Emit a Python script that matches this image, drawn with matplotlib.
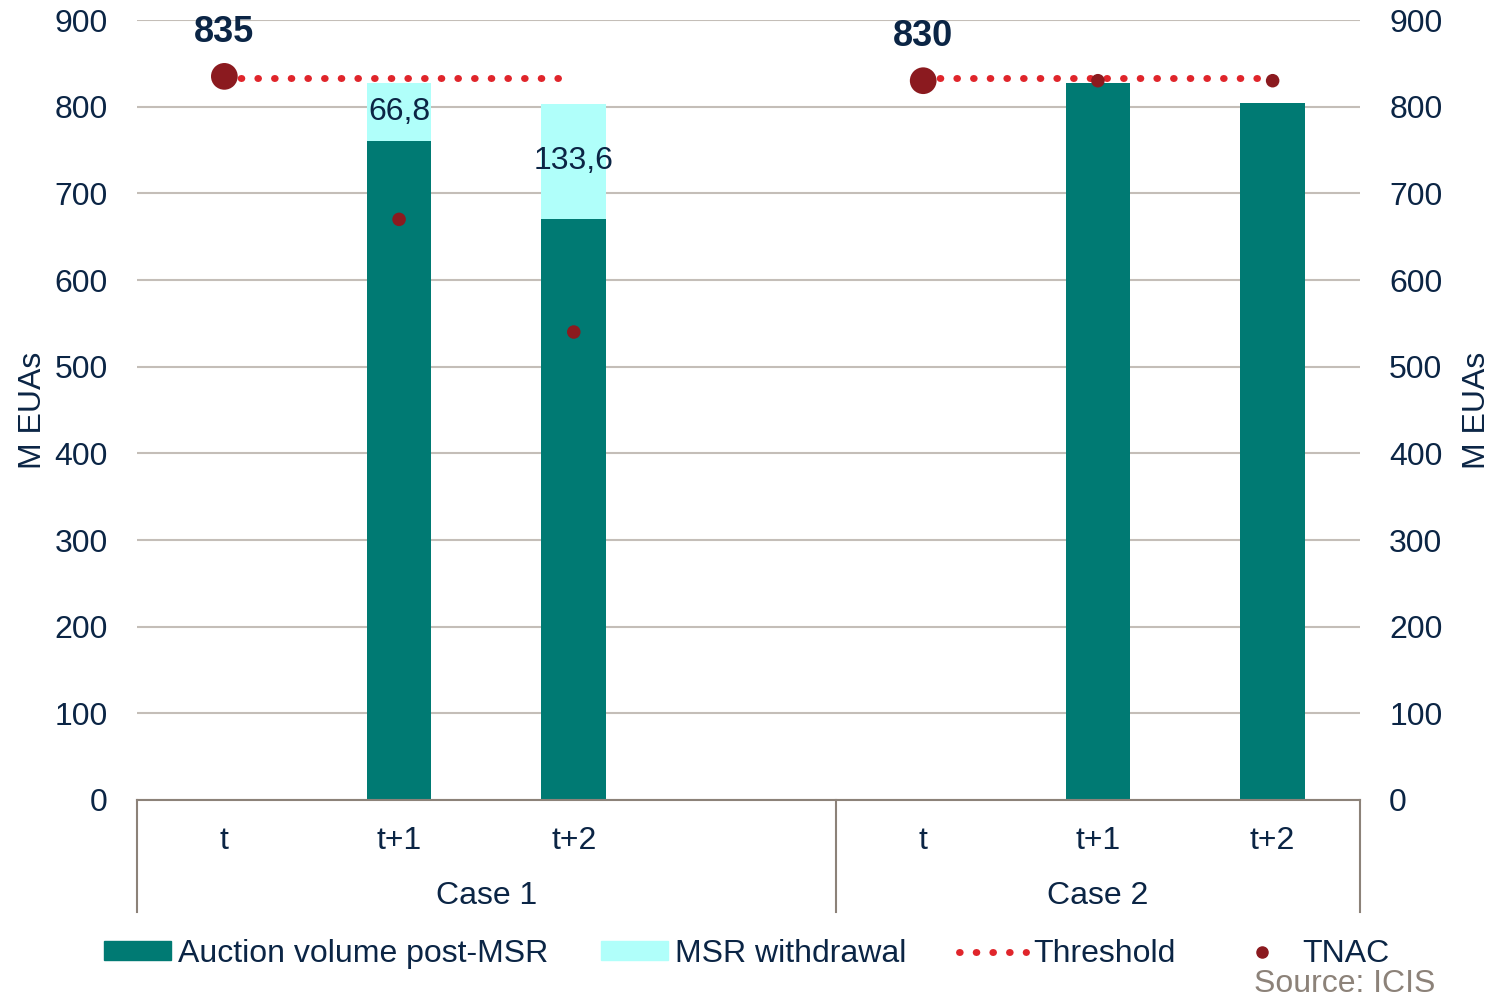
import numpy as np
import matplotlib.pyplot as plt
from matplotlib.lines import Line2D
from matplotlib.patches import Patch

plt.rcParams['font.family'] = ['Liberation Sans', 'DejaVu Sans']

# data
periods = ['t', 't+1', 't+2', '', 't', 't+1', 't+2']
cases = ['Case 1', 'Case 2']
auction = [np.nan, 760, 670, np.nan, np.nan, 827, 804]
withdrawal = [np.nan, 66.8, 133.6, np.nan, np.nan, 0, 0]
threshold_c1 = [833, 833, 833]
threshold_c2 = [833, 833, 833]
tnac = [835, 670, 540, np.nan, 830, 830, 830]
start_labels = ['835', '830']

teal = '#007a73'
cyan = '#b0fffa'
navy = '#0b2545'
red = '#e0252b'
dark_red = '#8b1a1f'
taupe = '#8c8279'
grid_c = '#c4beb8'
fs = 23

x = np.arange(len(periods))

fig = plt.figure(figsize=(14.94, 10.02), dpi=100)
ax = fig.add_axes([0.0917, 0.2016, 0.8186, 0.7784])

ax.bar(x, auction, width=0.37, color=teal, zorder=2)
ax.bar(x, withdrawal, width=0.37, bottom=auction, color=cyan, zorder=2)

for xi, a, w in zip(x, auction, withdrawal):
    if w and not np.isnan(w):
        ax.text(xi, a + w / 2, f'{w:.1f}'.replace('.', ','), ha='center', va='center',
                fontsize=fs, color=navy, zorder=5)

line_style = dict(color=red, lw=5, linestyle=(0, (0.1, 2.3)), dash_capstyle='round', zorder=3)
ax.plot(x[0:3], threshold_c1, **line_style)
ax.plot(x[4:7], threshold_c2, **line_style)

sizes = [370, 95, 95, 0, 370, 95, 95]
ax.scatter(x, tnac, s=sizes, color=dark_red, zorder=4, linewidths=0)

for xi, lab in zip([0, 4], start_labels):
    ax.text(xi, float(lab) + 51, lab, ha='center', va='center', fontsize=26,
            fontweight='bold', color=navy)

ax.set_xlim(-0.5, 6.5)
ax.set_ylim(0, 900)
ax.set_yticks(range(0, 901, 100))
ax.yaxis.grid(True, color=grid_c, lw=1.5, zorder=0)
ax.set_axisbelow(True)
for s in ['left', 'right', 'top']:
    ax.spines[s].set_visible(False)
ax.spines['bottom'].set_color(taupe)
ax.spines['bottom'].set_linewidth(1.5)

ax.set_xticks(x)
ax.set_xticklabels(periods)
ax.tick_params(axis='x', length=0, pad=19, labelsize=fs, labelcolor=navy)
ax.tick_params(axis='y', length=0, pad=21, labelsize=fs, labelcolor=navy)
ax.set_ylabel('M EUAs', fontsize=fs, color=navy, labelpad=5)

ax2 = ax.twinx()
ax2.set_ylim(0, 900)
ax2.set_yticks(range(0, 901, 100))
for s in ['left', 'right', 'top', 'bottom']:
    ax2.spines[s].set_visible(False)
ax2.tick_params(axis='y', length=0, pad=21, labelsize=fs, labelcolor=navy)
ax2.set_ylabel('M EUAs', fontsize=fs, color=navy, rotation=90, labelpad=14)

# group separators and case labels
trans = ax.get_xaxis_transform()
for xs in [-0.5, 3.5, 6.5]:
    ax.plot([xs, xs], [0, -0.144], transform=trans, color=taupe, lw=1.5, clip_on=False)
ax.text(1.5, -0.1225, cases[0], transform=trans, ha='center', va='center', fontsize=fs, color=navy)
ax.text(5.0, -0.1225, cases[1], transform=trans, ha='center', va='center', fontsize=fs, color=navy)

handles = [
    Patch(color=teal, label='Auction volume post-MSR'),
    Patch(color=cyan, label='MSR withdrawal'),
    Line2D([], [], color=red, lw=5, linestyle=(0, (0.1, 2.3)), dash_capstyle='round', label='Threshold'),
    Line2D([], [], color=dark_red, marker='o', markersize=8, lw=0, label='TNAC'),
]
leg = fig.legend(handles=handles, loc='center', bbox_to_anchor=(0.5, 0.048), ncol=4, frameon=False,
                 fontsize=fs, handlelength=2.1, handleheight=0.5, handletextpad=0.22, columnspacing=1.65)
for t in leg.get_texts():
    t.set_color(navy)

fig.text(0.961, 0.003, 'Source: ICIS', ha='right', va='bottom', fontsize=fs, color=taupe)

fig.savefig('out.png', dpi=100)
